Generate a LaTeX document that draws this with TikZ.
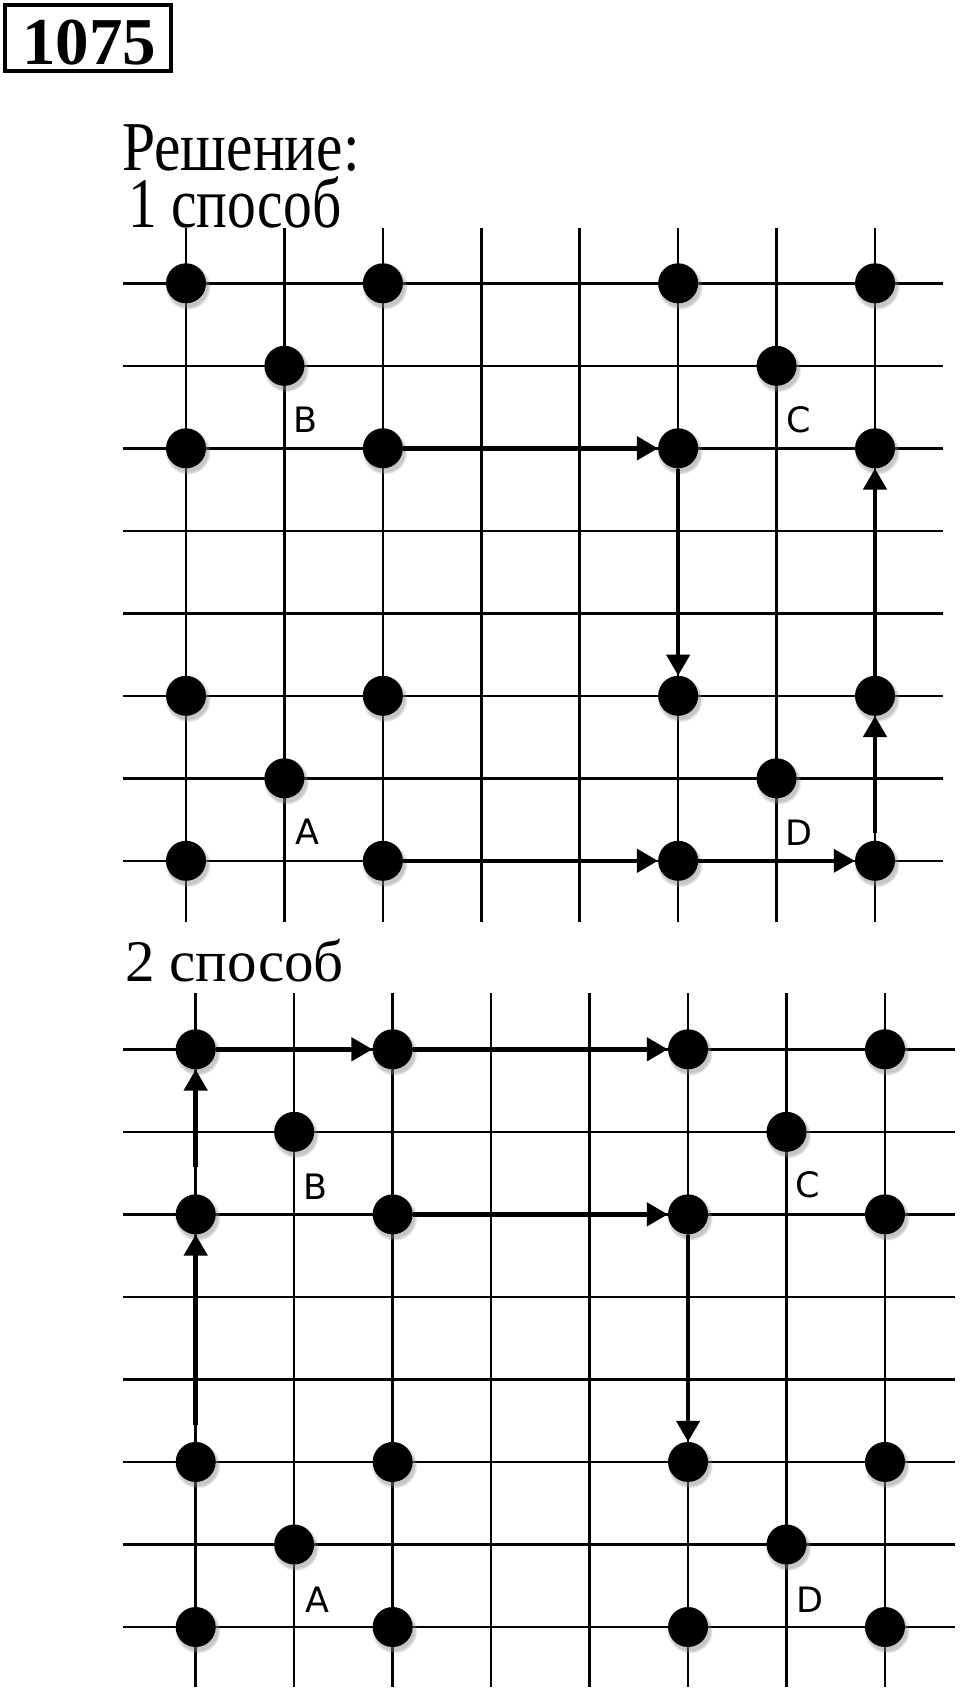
\documentclass[tikz,border=0pt]{standalone}
\usepackage{fontspec}
\setmainfont{Liberation Serif}
\newfontfamily\lblfont{DejaVu Sans}
\usetikzlibrary{arrows.meta,shadows,fadings}
\begin{document}
\begin{tikzpicture}[x=1pt,y=-1pt,
  gridline/.style={line width=2.6pt, black},
  dot/.style={circle, fill=black, minimum size=40pt, inner sep=0pt,
    circular drop shadow={shadow xshift=1.5pt, shadow yshift=-3pt, shadow scale=1.15, opacity=0.45}},
  move/.style={line width=4.5pt, -{Triangle[length=21pt,width=23pt]}},
  ptlabel/.style={font=\lblfont\fontsize{35}{40}\selectfont, inner sep=0pt},
  head/.style={anchor=base west, inner sep=0pt}
]
\useasboundingbox (0,0) rectangle (960,1690);
% task number
\node[draw, line width=4pt, minimum width=166pt, minimum height=66pt, inner sep=0pt] (numbox) at (88,38) {};
\node[inner sep=0pt, font=\bfseries\fontsize{67}{70}\selectfont] (num) at (89,42.5) {1075};
% headings
\node[head, font=\fontsize{70}{76}\selectfont] (sol) at (122,170) {\scalebox{0.85}[1]{Решение:}};
\node[head, font=\fontsize{71}{76}\selectfont] (way1) at (128,227) {\scalebox{0.81}[1]{1 способ}};
\node[head, font=\fontsize{59}{66}\selectfont] (way2) at (125,981) {2 способ};
% grid 1
\foreach \k in {0,...,7} {
  \draw[gridline] ({186+98.43*\k},228) -- ({186+98.43*\k},922);
  \draw[gridline] (123,{283.3+82.5*\k}) -- (943,{283.3+82.5*\k});
}
\foreach \i/\j in {0/0,2/0,5/0,7/0,1/1,6/1,0/2,2/2,5/2,7/2,0/5,2/5,5/5,7/5,1/6,6/6,0/7,2/7,5/7,7/7}
  \node[dot] (a\i\j) at ({186+98.43*\i},{283.3+82.5*\j}) {};
\node[ptlabel] (B1) at (306,420) {B};
\node[ptlabel] (C1) at (799,420) {C};
\node[ptlabel] (A1) at (307,832) {A};
\node[ptlabel] (D1) at (799,833) {D};
\draw[move] (a22) -- (a52);
\draw[move] (a52) -- (a55);
\draw[move] (a27) -- (a57);
\draw[move, line width=3.5pt] (a57) -- (a77);
\draw[move, shorten <=8pt] (a77) -- (a75);
\draw[move] (a75) -- (a72);
% grid 2
\foreach \k in {0,...,7} {
  \draw[gridline] ({195.7+98.47*\k},993) -- ({195.7+98.47*\k},1687);
  \draw[gridline] (123,{1049.3+82.53*\k}) -- (955,{1049.3+82.53*\k});
}
\foreach \i/\j in {0/0,2/0,5/0,7/0,1/1,6/1,0/2,2/2,5/2,7/2,0/5,2/5,5/5,7/5,1/6,6/6,0/7,2/7,5/7,7/7}
  \node[dot] (b\i\j) at ({195.7+98.47*\i},{1049.3+82.53*\j}) {};
\node[ptlabel] (B2) at (316,1187) {B};
\node[ptlabel] (C2) at (808,1185) {C};
\node[ptlabel] (A2) at (317,1600) {A};
\node[ptlabel] (D2) at (810,1600) {D};
\draw[move, shorten <=17pt] (b05) -- (b02);
\draw[move, shorten <=27pt] (b02) -- (b00);
\draw[move] (b00) -- (b20);
\draw[move] (b20) -- (b50);
\draw[move] (b22) -- (b52);
\draw[move] (b52) -- (b55);
\end{tikzpicture}
\end{document}
